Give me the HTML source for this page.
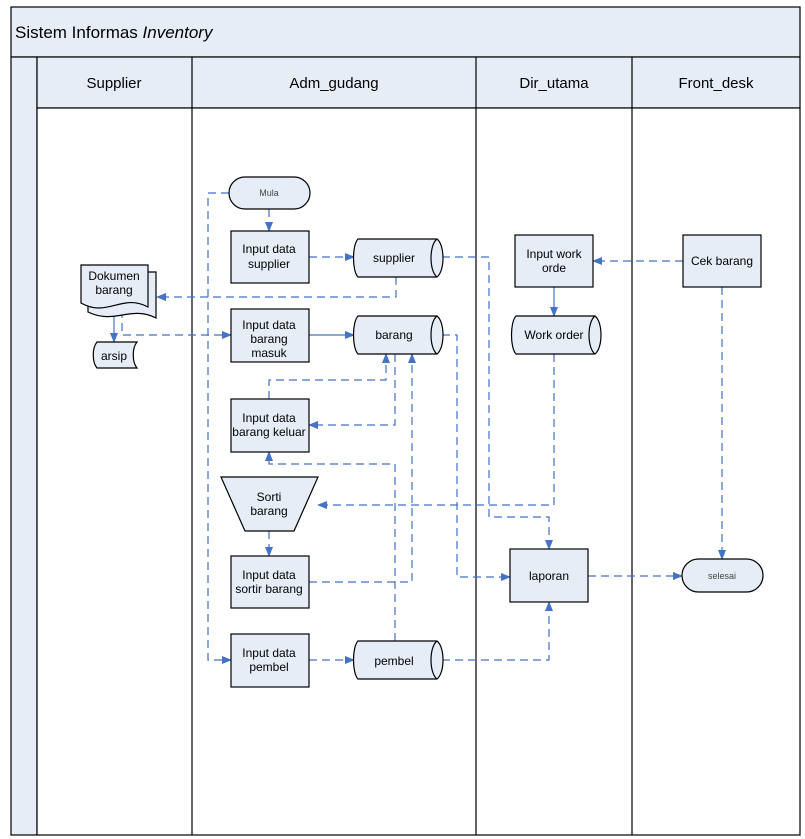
<!DOCTYPE html>
<html><head><meta charset="utf-8"><style>
html,body{margin:0;padding:0;background:#fff;}
svg{display:block;font-family:"Liberation Sans",Arial,sans-serif;}
</style></head><body>
<svg width="805" height="839" viewBox="0 0 805 839" xmlns="http://www.w3.org/2000/svg">
<defs>
<marker id="a" markerWidth="10" markerHeight="10" refX="9" refY="5" orient="auto" markerUnits="userSpaceOnUse"><path d="M0,1 L10,5 L0,9 z" fill="#4472C4"/></marker>
</defs>
<!-- frame -->
<rect x="11" y="7" width="789" height="50" fill="#E6EDF7" stroke="#000" stroke-width="1.2"/>
<text x="15" y="38" font-size="17">Sistem Informas <tspan font-style="italic">Inventory</tspan></text>
<rect x="11" y="57" width="26" height="778" fill="#E6EDF7" stroke="#000" stroke-width="1.2"/>
<rect x="37" y="57" width="763" height="51" fill="#E6EDF7" stroke="#000" stroke-width="1.2"/>
<rect x="37" y="108" width="763" height="727" fill="#fff" stroke="#000" stroke-width="1.2"/>
<g stroke="#000" stroke-width="1.2">
<line x1="192" y1="57" x2="192" y2="835"/><line x1="476" y1="57" x2="476" y2="835"/><line x1="632" y1="57" x2="632" y2="835"/>
</g>
<g font-size="15" text-anchor="middle">
<text x="114" y="88">Supplier</text><text x="334" y="88">Adm_gudang</text><text x="554" y="88">Dir_utama</text><text x="716" y="88">Front_desk</text>
</g>
<!-- connectors -->
<g fill="none" stroke="#4472C4" stroke-width="1.2" stroke-dasharray="8,5">
<path d="M269,209 V231" marker-end="url(#a)"/>
<path d="M229,193 H208 V660 H231" marker-end="url(#a)"/>
<path d="M309,257 H354" marker-end="url(#a)"/>
<path d="M396,277 V297 H157" marker-end="url(#a)"/>
<path d="M442,257 H489 V517 H549 V549" marker-end="url(#a)"/>
<path d="M122,310 V335 H231" marker-end="url(#a)"/>
<path d="M442,335 H457 V577 H510" marker-end="url(#a)"/>
<path d="M269,399 V380 H386 V354" marker-end="url(#a)"/>
<path d="M395,354 V425 H309" marker-end="url(#a)"/>
<path d="M309,582 H412 V354" marker-end="url(#a)"/>
<path d="M395,641 V464 H269 V452" marker-end="url(#a)"/>
<path d="M554,354 V505 H318" marker-end="url(#a)"/>
<path d="M683,261 H593" marker-end="url(#a)"/>
<path d="M722,287 V559" marker-end="url(#a)"/>
<path d="M269,531 V556" marker-end="url(#a)"/>
<path d="M309,660 H354" marker-end="url(#a)"/>
<path d="M442,660 H549 V602" marker-end="url(#a)"/>
<path d="M588,576 H682" marker-end="url(#a)"/>
</g>
<g fill="none" stroke="#4472C4" stroke-width="1.2">
<path d="M114,305 V342" marker-end="url(#a)"/>
<path d="M309,335 H354" marker-end="url(#a)"/>
<path d="M554,287 V316" marker-end="url(#a)"/>
</g>
<!-- shapes -->
<g fill="#E6EDF7" stroke="#000" stroke-width="1.2">
<rect x="229" y="177" width="81" height="32" rx="16"/>
<rect x="231" y="231" width="78" height="52"/>
<rect x="231" y="309" width="78" height="53"/>
<rect x="231" y="399" width="78" height="53"/>
<path d="M221,477 H318 L294,531 H245 Z"/>
<rect x="231" y="556" width="78" height="52"/>
<rect x="231" y="634" width="78" height="53"/>
<rect x="515" y="235" width="78" height="52"/>
<rect x="683" y="235" width="78" height="52"/>
<rect x="510" y="549" width="78" height="53"/>
<rect x="682" y="559" width="81" height="33" rx="16.5"/>
<path d="M88,272 H156 V318 C130,305 115,325 88,312 Z"/>
<path d="M81,265 H148 V307 C122,293 107,318 81,303 Z"/>
<path d="M97,342 H137 C132,348 132,362 137,368 H97 C92,362 92,348 97,342 Z"/>
</g>
<g fill="#E6EDF7" stroke="#000" stroke-width="1.2">
<path d="M358,239 H437 C445,245 445,271 437,277 H358 C352,271 352,245 358,239 Z"/><path d="M437,239 C429,245 429,271 437,277" fill="none"/>
<path d="M358,316 H437 C445,322 445,348 437,354 H358 C352,348 352,322 358,316 Z"/><path d="M437,316 C429,322 429,348 437,354" fill="none"/>
<path d="M358,641 H437 C445,647 445,673 437,679 H358 C352,673 352,647 358,641 Z"/><path d="M437,641 C429,647 429,673 437,679" fill="none"/>
<path d="M516,316 H595 C603,322 603,348 595,354 H516 C510,348 510,322 516,316 Z"/><path d="M595,316 C587,322 587,348 595,354" fill="none"/>
</g>
<g font-size="12" text-anchor="middle" fill="#000">
<text x="269" y="196" font-size="9" fill="#444">Mula</text>
<text x="269" y="253">Input data</text><text x="269" y="268">supplier</text>
<text x="269" y="329">Input data</text><text x="269" y="343">barang</text><text x="269" y="357">masuk</text>
<text x="269" y="422">Input data</text><text x="269" y="436">barang keluar</text>
<text x="269" y="501">Sorti</text><text x="269" y="515">barang</text>
<text x="269" y="579">Input data</text><text x="269" y="593">sortir barang</text>
<text x="269" y="657">Input data</text><text x="269" y="671">pembel</text>
<text x="394" y="262">supplier</text><text x="394" y="339">barang</text><text x="394" y="665">pembel</text>
<text x="554" y="258">Input work</text><text x="554" y="272">orde</text>
<text x="554" y="339">Work order</text>
<text x="722" y="265">Cek barang</text>
<text x="549" y="580">laporan</text>
<text x="722" y="579" font-size="9" fill="#444">selesai</text>
<text x="114" y="280">Dokumen</text><text x="114" y="294">barang</text>
<text x="114" y="360">arsip</text>
</g>
</svg>
</body></html>
